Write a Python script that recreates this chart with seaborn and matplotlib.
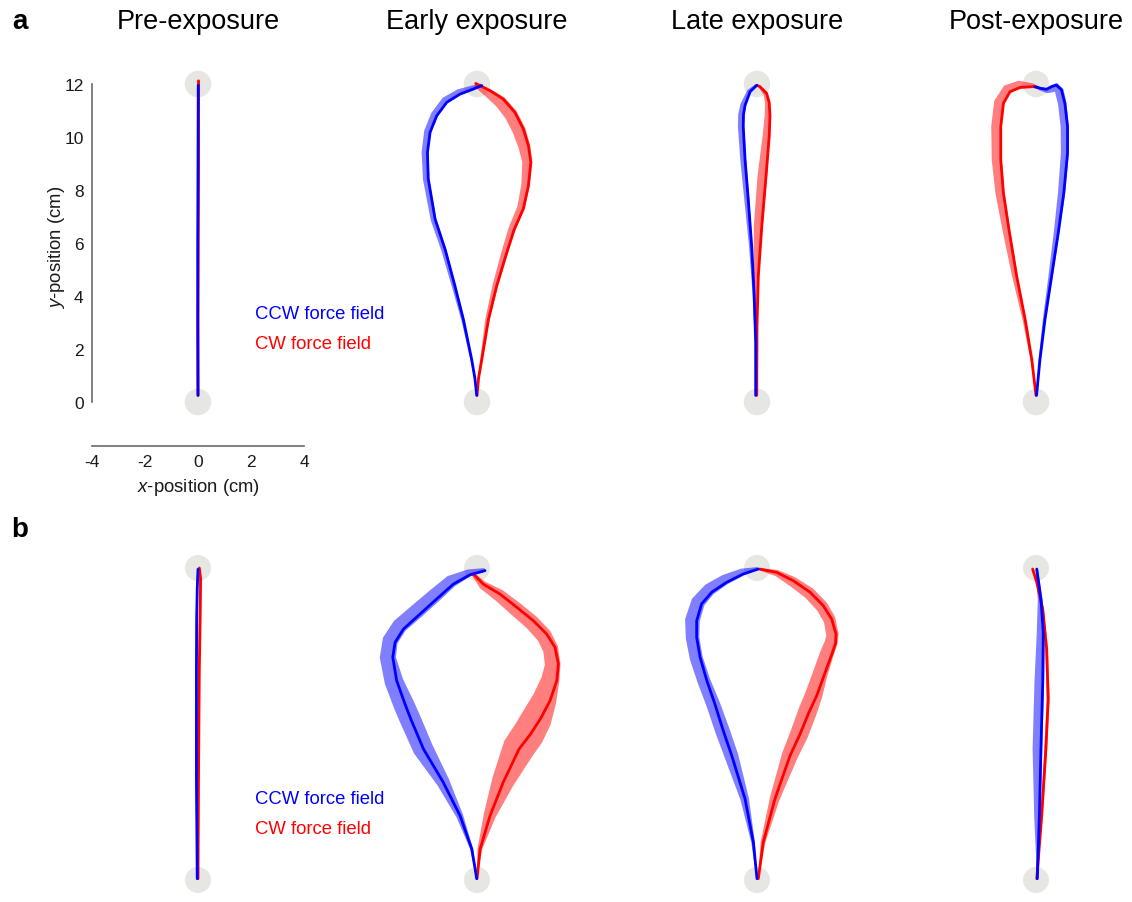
import numpy as np
import seaborn as sns
import matplotlib.pyplot as plt
from matplotlib.patches import Circle

sns.set_style("white")
plt.rcParams['font.family'] = ['Liberation Sans', 'DejaVu Sans']
plt.rcParams['mathtext.fontset'] = 'custom'
plt.rcParams['mathtext.it'] = 'Liberation Sans:italic'
plt.rcParams['mathtext.rm'] = 'Liberation Sans'
plt.rcParams['axes.unicode_minus'] = False
plt.rcParams['text.color'] = 'black'

# ---- data (cm): mean hand paths, band width left / right of travel direction ----
phases = ["Pre-exposure", "Early exposure", "Late exposure", "Post-exposure"]

# row a
a_pre_ccw_x = [0.0, -0.01, -0.01, 0.0, 0.01]
a_pre_ccw_y = [0.25, 3.0, 6.0, 9.0, 11.95]
a_pre_ccw_wl = [0.01, 0.02, 0.02, 0.02, 0.02]
a_pre_ccw_wr = [0.01, 0.02, 0.02, 0.02, 0.02]
a_pre_cw_x = [0.0, 0.0, 0.01, 0.02, 0.02]
a_pre_cw_y = [0.25, 3.0, 6.0, 9.0, 12.12]
a_pre_cw_wl = [0.01, 0.02, 0.03, 0.03, 0.03]
a_pre_cw_wr = [0.01, 0.02, 0.02, 0.02, 0.02]

a_early_ccw_x = [-0.01, -0.08, -0.2, -0.51, -0.83, -1.2, -1.58, -1.84, -1.87, -1.77, -1.52, -1.14, -0.64, -0.14, 0.18]
a_early_ccw_y = [0.25, 0.9, 1.6, 3.1, 4.37, 5.75, 6.9, 8.42, 9.42, 10.18, 10.8, 11.31, 11.62, 11.81, 11.94]
a_early_ccw_wl = [0.01, 0.03, 0.05, 0.08, 0.12, 0.15, 0.17, 0.2, 0.22, 0.23, 0.23, 0.23, 0.2, 0.14, 0.08]
a_early_ccw_wr = [0.01, 0.02, 0.02, 0.03, 0.03, 0.04, 0.04, 0.04, 0.04, 0.04, 0.04, 0.04, 0.04, 0.04, 0.03]
a_early_cw_x = [0.0, 0.06, 0.18, 0.43, 0.74, 1.12, 1.4, 1.75, 1.94, 2.03, 1.94, 1.75, 1.43, 0.99, 0.49, -0.05]
a_early_cw_y = [0.25, 0.9, 1.6, 3.1, 4.37, 5.63, 6.5, 7.3, 8.16, 9.05, 9.67, 10.3, 10.93, 11.43, 11.75, 12.02]
a_early_cw_wl = [0.01, 0.04, 0.06, 0.12, 0.16, 0.2, 0.22, 0.24, 0.27, 0.32, 0.38, 0.42, 0.42, 0.38, 0.28, 0.12]
a_early_cw_wr = [0.01, 0.02, 0.02, 0.04, 0.05, 0.05, 0.05, 0.05, 0.05, 0.06, 0.07, 0.08, 0.08, 0.08, 0.06, 0.03]

a_late_ccw_x = [-0.05, -0.05, -0.11, -0.2, -0.33, -0.45, -0.52, -0.51, -0.45, -0.26, -0.01]
a_late_ccw_y = [0.25, 2.25, 4.12, 5.88, 7.64, 9.14, 10.4, 10.85, 11.2, 11.71, 11.95]
a_late_ccw_wl = [0.01, 0.03, 0.06, 0.1, 0.15, 0.18, 0.2, 0.2, 0.18, 0.12, 0.06]
a_late_ccw_wr = [0.01, 0.02, 0.03, 0.03, 0.04, 0.04, 0.04, 0.04, 0.04, 0.03, 0.02]
a_late_cw_x = [-0.01, 0.0, 0.05, 0.18, 0.34, 0.46, 0.49, 0.46, 0.36, 0.11, 0.0]
a_late_cw_y = [0.25, 2.87, 4.75, 6.63, 8.51, 10.02, 10.8, 11.3, 11.65, 11.9, 11.95]
a_late_cw_wl = [0.01, 0.06, 0.18, 0.3, 0.32, 0.25, 0.2, 0.16, 0.12, 0.06, 0.03]
a_late_cw_wr = [0.01, 0.02, 0.03, 0.04, 0.04, 0.04, 0.04, 0.04, 0.04, 0.03, 0.02]

a_post_ccw_x = [0.02, 0.15, 0.34, 0.59, 0.84, 1.05, 1.19, 1.19, 1.09, 0.96, 0.77, 0.59, 0.4, 0.15, -0.05]
a_post_ccw_y = [0.25, 1.61, 3.12, 4.75, 6.38, 7.89, 9.39, 10.39, 11.27, 11.78, 11.96, 11.9, 11.8, 11.84, 11.9]
a_post_ccw_wl = [0.01, 0.05, 0.08, 0.12, 0.17, 0.22, 0.25, 0.26, 0.26, 0.26, 0.25, 0.22, 0.15, 0.08, 0.03]
a_post_ccw_wr = [0.01, 0.02, 0.03, 0.04, 0.04, 0.05, 0.05, 0.05, 0.06, 0.08, 0.08, 0.06, 0.05, 0.03, 0.02]
a_post_cw_x = [0.0, -0.16, -0.41, -0.73, -1.0, -1.23, -1.33, -1.33, -1.23, -0.98, -0.6, -0.1, 0.09]
a_post_cw_y = [0.25, 1.61, 3.12, 4.75, 6.38, 7.89, 9.14, 10.39, 11.27, 11.71, 11.87, 11.9, 11.87]
a_post_cw_wl = [0.01, 0.05, 0.1, 0.17, 0.24, 0.3, 0.34, 0.36, 0.36, 0.32, 0.26, 0.12, 0.04]
a_post_cw_wr = [0.01, 0.02, 0.03, 0.04, 0.04, 0.04, 0.04, 0.04, 0.04, 0.04, 0.04, 0.03, 0.02]

# row b
b_pre_ccw_x = [-0.03, -0.06, -0.06, -0.05, -0.03, 0.0]
b_pre_ccw_y = [0.05, 4.0, 8.0, 10.0, 11.2, 11.95]
b_pre_ccw_wl = [0.02, 0.04, 0.04, 0.04, 0.04, 0.03]
b_pre_ccw_wr = [0.01, 0.02, 0.02, 0.02, 0.02, 0.02]
b_pre_cw_x = [0.0, 0.02, 0.05, 0.09, 0.1, 0.05]
b_pre_cw_y = [0.05, 4.0, 8.0, 10.5, 11.6, 12.0]
b_pre_cw_wl = [0.02, 0.04, 0.05, 0.05, 0.05, 0.03]
b_pre_cw_wr = [0.01, 0.02, 0.02, 0.02, 0.02, 0.02]

b_early_ccw_x = [-0.01, -0.2, -0.65, -1.3, -2.06, -2.55, -2.77, -3.09, -3.24, -3.15, -2.83, -2.19, -1.55, -0.91, -0.27, 0.31]
b_early_ccw_y = [0.05, 1.19, 2.47, 3.76, 5.04, 6.2, 6.77, 7.67, 8.57, 9.14, 9.65, 10.23, 10.81, 11.38, 11.74, 11.9]
b_early_ccw_wl = [0.01, 0.06, 0.15, 0.25, 0.4, 0.43, 0.45, 0.47, 0.5, 0.5, 0.48, 0.45, 0.42, 0.38, 0.22, 0.1]
b_early_ccw_wr = [0.01, 0.05, 0.12, 0.25, 0.38, 0.38, 0.35, 0.25, 0.12, 0.1, 0.1, 0.12, 0.12, 0.1, 0.06, 0.04]
b_early_cw_x = [0.0, 0.12, 0.5, 1.01, 1.62, 2.05, 2.44, 2.81, 3.07, 3.13, 3.0, 2.68, 2.17, 1.53, 0.88, 0.24, -0.14]
b_early_cw_y = [0.05, 1.19, 2.47, 3.76, 5.04, 5.6, 6.2, 6.9, 7.67, 8.31, 8.95, 9.46, 9.97, 10.49, 11.0, 11.38, 11.77]
b_early_cw_wl = [0.01, 0.1, 0.25, 0.45, 0.65, 0.7, 0.72, 0.68, 0.6, 0.52, 0.48, 0.42, 0.38, 0.35, 0.3, 0.2, 0.08]
b_early_cw_wr = [0.01, 0.08, 0.22, 0.4, 0.58, 0.55, 0.45, 0.25, 0.1, 0.08, 0.12, 0.18, 0.2, 0.2, 0.18, 0.12, 0.05]

b_late_ccw_x = [0.0, -0.14, -0.46, -0.97, -1.3, -1.62, -1.93, -2.19, -2.32, -2.32, -2.13, -1.74, -1.17, -0.53, 0.05]
b_late_ccw_y = [0.05, 1.45, 3.12, 4.78, 5.75, 6.77, 7.67, 8.57, 9.33, 9.97, 10.62, 11.07, 11.45, 11.77, 11.96]
b_late_ccw_wl = [0.01, 0.08, 0.18, 0.28, 0.31, 0.33, 0.36, 0.4, 0.42, 0.45, 0.42, 0.38, 0.32, 0.22, 0.08]
b_late_ccw_wr = [0.01, 0.06, 0.15, 0.25, 0.25, 0.2, 0.14, 0.1, 0.1, 0.12, 0.12, 0.1, 0.08, 0.06, 0.03]
b_late_cw_x = [0.05, 0.24, 0.69, 1.27, 1.65, 2.0, 2.3, 2.6, 2.88, 3.02, 3.04, 2.87, 2.55, 2.04, 1.4, 0.76, 0.1]
b_late_cw_y = [0.05, 1.45, 3.12, 4.78, 5.6, 6.45, 7.1, 7.92, 8.69, 9.1, 9.46, 10.04, 10.55, 11.07, 11.51, 11.83, 11.96]
b_late_cw_wl = [0.01, 0.1, 0.2, 0.32, 0.38, 0.42, 0.45, 0.45, 0.45, 0.42, 0.38, 0.32, 0.3, 0.28, 0.24, 0.15, 0.05]
b_late_cw_wr = [0.01, 0.08, 0.18, 0.3, 0.32, 0.3, 0.22, 0.12, 0.08, 0.08, 0.1, 0.15, 0.18, 0.18, 0.15, 0.1, 0.04]

b_post_ccw_x = [0.05, 0.13, 0.19, 0.26, 0.28, 0.19, 0.03]
b_post_ccw_y = [0.05, 2.47, 5.04, 7.6, 9.53, 10.8, 11.96]
b_post_ccw_wl = [0.01, 0.2, 0.32, 0.32, 0.25, 0.12, 0.05]
b_post_ccw_wr = [0.01, 0.04, 0.05, 0.05, 0.06, 0.06, 0.04]
b_post_cw_x = [0.03, 0.22, 0.38, 0.47, 0.41, 0.26, 0.03, -0.13]
b_post_cw_y = [0.05, 2.47, 5.04, 6.96, 8.88, 10.42, 11.45, 11.96]
b_post_cw_wl = [0.01, 0.05, 0.06, 0.06, 0.05, 0.04, 0.03, 0.02]
b_post_cw_wr = [0.01, 0.04, 0.05, 0.05, 0.05, 0.04, 0.03, 0.02]

rows = {
    "a": [
        ((a_pre_ccw_x, a_pre_ccw_y, a_pre_ccw_wl, a_pre_ccw_wr), (a_pre_cw_x, a_pre_cw_y, a_pre_cw_wl, a_pre_cw_wr)),
        ((a_early_ccw_x, a_early_ccw_y, a_early_ccw_wl, a_early_ccw_wr), (a_early_cw_x, a_early_cw_y, a_early_cw_wl, a_early_cw_wr)),
        ((a_late_ccw_x, a_late_ccw_y, a_late_ccw_wl, a_late_ccw_wr), (a_late_cw_x, a_late_cw_y, a_late_cw_wl, a_late_cw_wr)),
        ((a_post_ccw_x, a_post_ccw_y, a_post_ccw_wl, a_post_ccw_wr), (a_post_cw_x, a_post_cw_y, a_post_cw_wl, a_post_cw_wr)),
    ],
    "b": [
        ((b_pre_ccw_x, b_pre_ccw_y, b_pre_ccw_wl, b_pre_ccw_wr), (b_pre_cw_x, b_pre_cw_y, b_pre_cw_wl, b_pre_cw_wr)),
        ((b_early_ccw_x, b_early_ccw_y, b_early_ccw_wl, b_early_ccw_wr), (b_early_cw_x, b_early_cw_y, b_early_cw_wl, b_early_cw_wr)),
        ((b_late_ccw_x, b_late_ccw_y, b_late_ccw_wl, b_late_ccw_wr), (b_late_cw_x, b_late_cw_y, b_late_cw_wl, b_late_cw_wr)),
        ((b_post_ccw_x, b_post_ccw_y, b_post_ccw_wl, b_post_ccw_wr), (b_post_cw_x, b_post_cw_y, b_post_cw_wl, b_post_cw_wr)),
    ],
}

BLUE = "#0000ff"
RED = "#ff0000"
GREY = "#e6e6e3"

W, H = 1132, 903
fig = plt.figure(figsize=(W / 100, H / 100), dpi=100)

centers = [198, 477, 757, 1036]
# px per cm, pixel row of y=0, ylim
layout = {"a": (26.5, 403, (-2.5, 13.0)), "b": (26.0, 881, (-0.8, 12.8))}


def band(ax, x, y, wl, wr, color):
    x, y = np.asarray(x), np.asarray(y)
    wl, wr = np.asarray(wl), np.asarray(wr)
    dx, dy = np.gradient(x), np.gradient(y)
    L = np.hypot(dx, dy)
    nx, ny = -dy / L, dx / L  # left of travel direction
    px = np.concatenate([x + wl * nx, (x - wr * nx)[::-1]])
    py = np.concatenate([y + wl * ny, (y - wr * ny)[::-1]])
    ax.fill(px, py, color=color, alpha=0.5, lw=0, zorder=2)


for row, panels in rows.items():
    s, y0px, ylim = layout[row]
    half = 139.5 / s
    for i, (ccw, cw) in enumerate(panels):
        c = centers[i]
        bottom_px = y0px - ylim[0] * s
        ax = fig.add_axes([(c - 139.5) / W, (H - bottom_px) / H,
                           279 / W, (ylim[1] - ylim[0]) * s / H])
        ax.set_xlim(-half, half)
        ax.set_ylim(*ylim)
        for cy in (0, 12):
            ax.add_patch(Circle((0, cy), 0.5, color=GREY, lw=0, zorder=1))
        band(ax, *ccw, BLUE)
        band(ax, *cw, RED)
        sns.lineplot(x=cw[0], y=cw[1], sort=False, estimator=None, color=RED, lw=2, ax=ax, zorder=3)
        sns.lineplot(x=ccw[0], y=ccw[1], sort=False, estimator=None, color=BLUE, lw=2, ax=ax, zorder=4)
        ax.set_xlabel("")
        ax.set_ylabel("")

        if row == "a" and i == 0:
            for sp in ("top", "right"):
                ax.spines[sp].set_visible(False)
            ax.spines["left"].set_position(("data", -4))
            ax.spines["left"].set_bounds(0, 12)
            ax.spines["bottom"].set_position(("data", -1.65))
            ax.spines["bottom"].set_bounds(-4, 4)
            for sp in ("left", "bottom"):
                ax.spines[sp].set_color("#6b6b6b")
                ax.spines[sp].set_linewidth(1.2)
            ax.set_xticks([-4, -2, 0, 2, 4])
            ax.set_yticks([0, 2, 4, 6, 8, 10, 12])
            ax.tick_params(direction="in", length=4, width=1.2, color="#6b6b6b",
                           labelsize=12.5, labelcolor="#1a1a1a", pad=6)
            ax.set_xlabel(r"$x$-position (cm)", fontsize=13.3, color="#1a1a1a", labelpad=5)
            ax.set_ylabel(r"$y$-position (cm)", fontsize=13.3, color="#1a1a1a")
            ax.yaxis.set_label_coords(0.03, 0.541)
        else:
            ax.axis("off")

        if row == "a":
            fig.text(c / W, 1 - 22 / H, phases[i], ha="center", va="center", fontsize=19.5)

    leg_y = 315 if row == "a" else 800
    fig.text(255 / W, 1 - leg_y / H, "CCW force field", color=BLUE, fontsize=13.3, va="center")
    fig.text(255 / W, 1 - (leg_y + 30) / H, "CW force field", color=RED, fontsize=13.3, va="center")

fig.text(20 / W, 1 - 22 / H, "a", fontsize=20, fontweight="bold", ha="center", va="center")
fig.text(20 / W, 1 - 530 / H, "b", fontsize=20, fontweight="bold", ha="center", va="center")

fig.savefig("out.png", dpi=100)
